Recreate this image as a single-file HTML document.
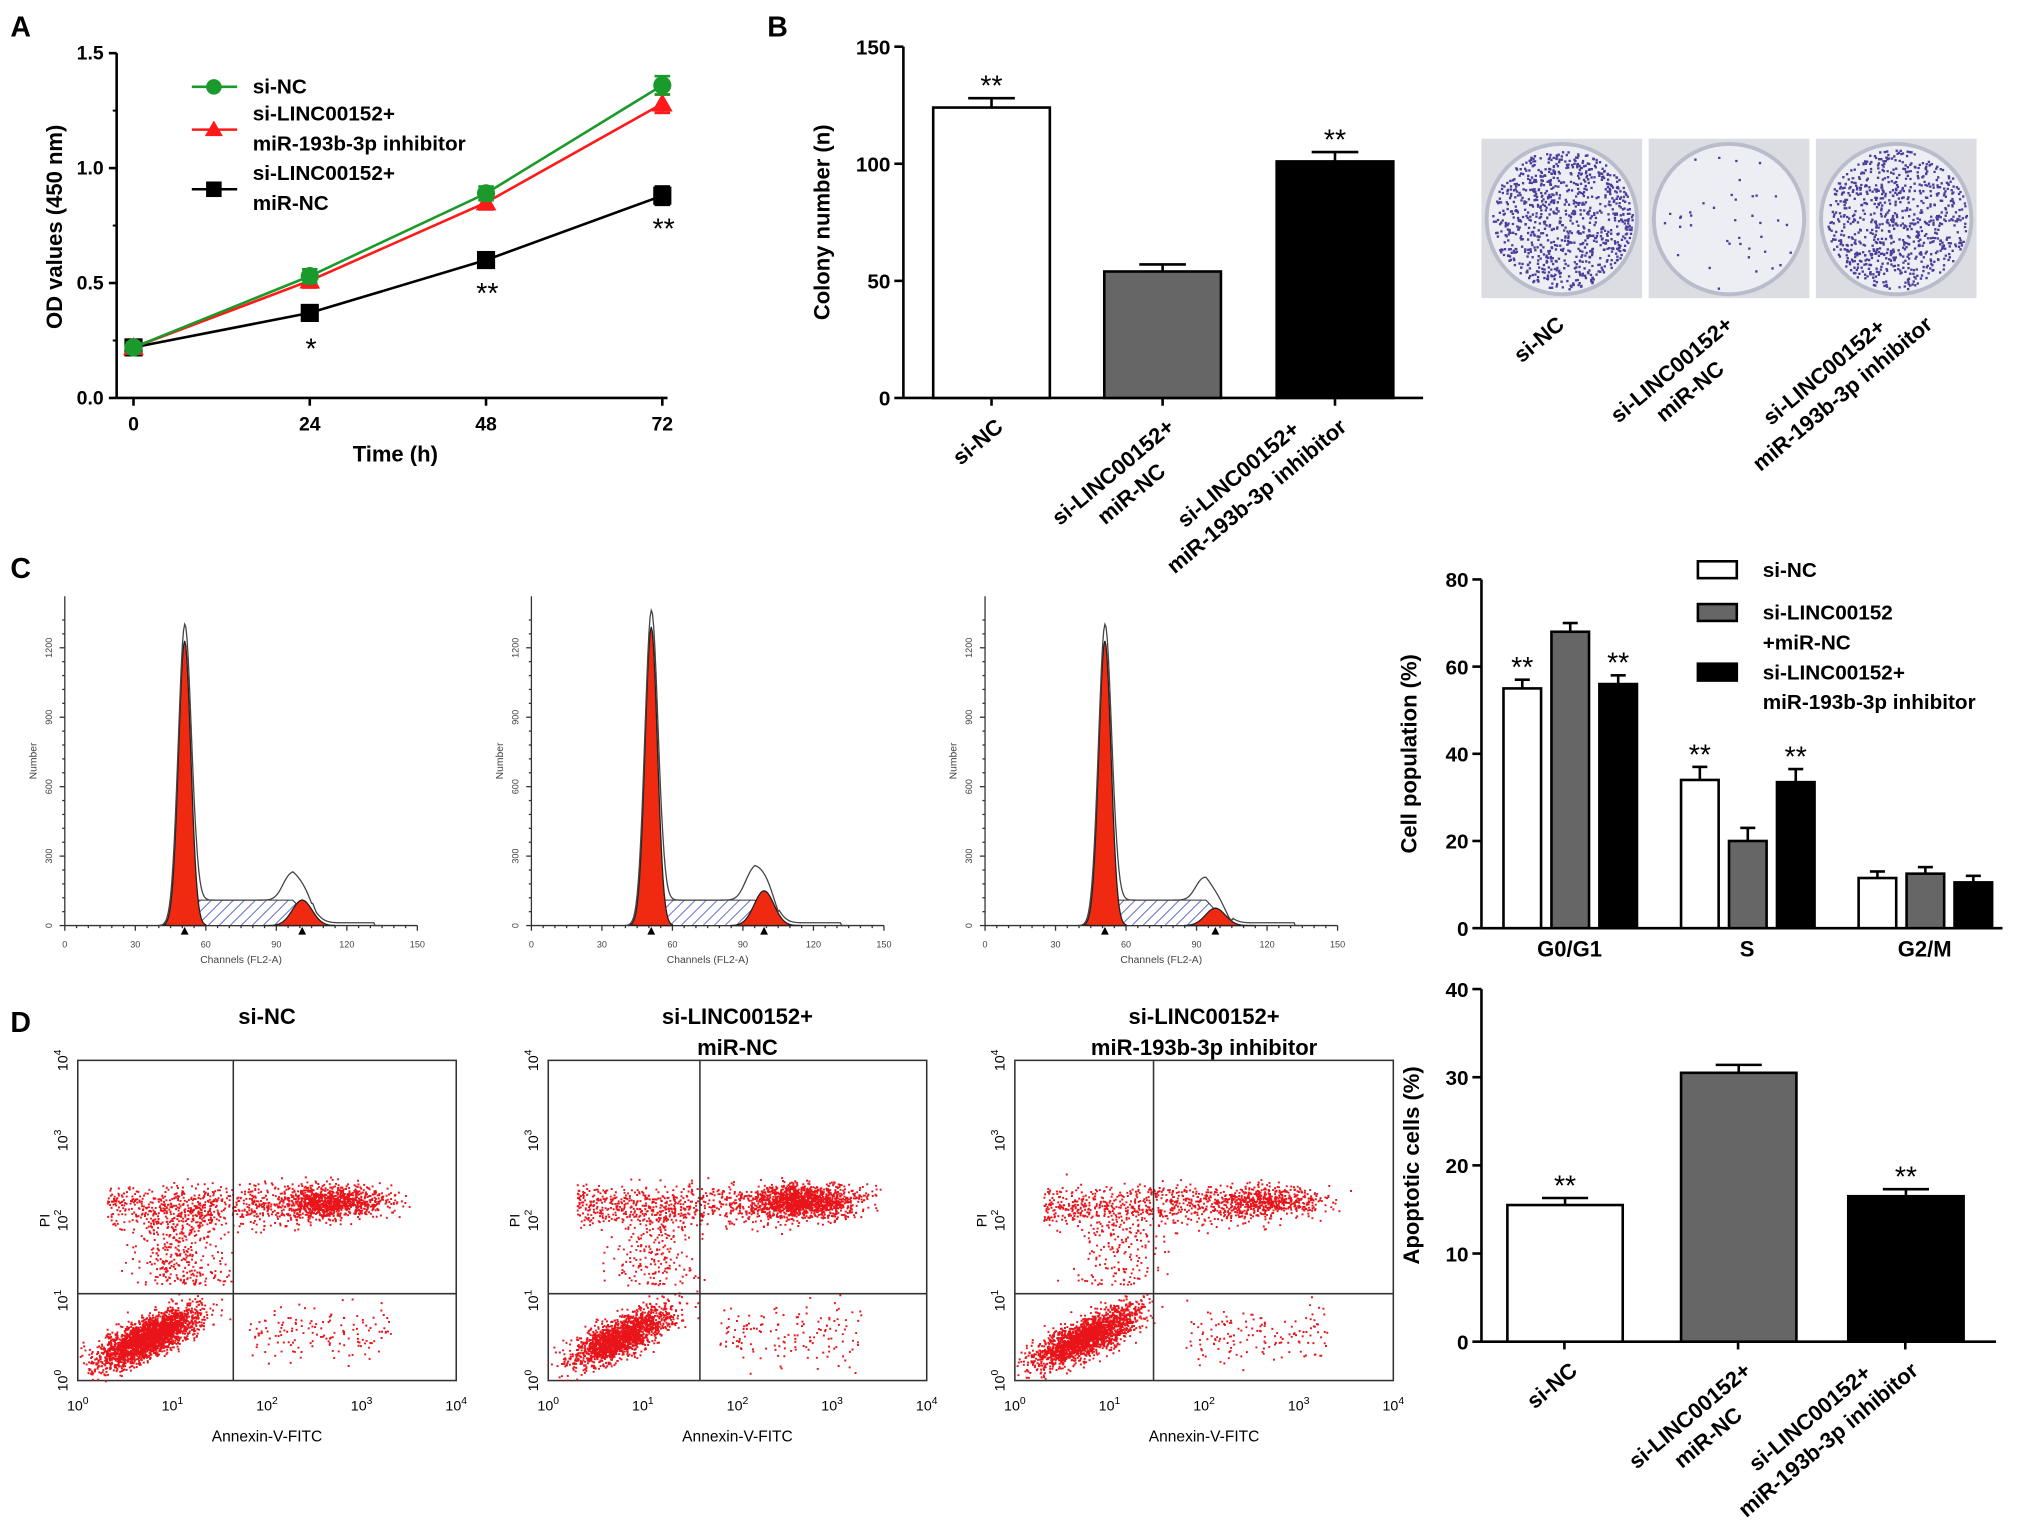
<!DOCTYPE html>
<html><head><meta charset="utf-8"><style>
html,body{margin:0;padding:0;background:#fff;}
svg{display:block;font-family:"Liberation Sans",Arial,sans-serif;}
</style></head><body>
<svg id="fig" width="2031" height="1540" viewBox="0 0 1567 1188" preserveAspectRatio="none" xmlns="http://www.w3.org/2000/svg">
<defs>
<pattern id="hatch" patternUnits="userSpaceOnUse" width="6" height="6" patternTransform="rotate(45)">
<rect width="6" height="6" fill="#fff"/><line x1="0" y1="0" x2="0" y2="6" stroke="#5a6ac8" stroke-width="1.5"/></pattern>
</defs>
<g id="root"></g>
</svg>
<script>
// ===== Data =====
const timePoints=[0,24,48,72];
const siNC_OD=[0.22,0.53,0.89,1.36];
const inhib_OD=[0.22,0.51,0.85,1.28];
const miRNC_OD=[0.22,0.37,0.60,0.88];
const odErr=[0.02,0.03,0.03,0.04];
const odTicks=[0.0,0.5,1.0,1.5];
const colonyCats=["si-NC","si-LINC00152+|miR-NC","si-LINC00152+|miR-193b-3p inhibitor"];
const colonyVals=[124,54,101];
const colonyErr=[4,3,4];
const colonyTicks=[0,50,100,150];
const phaseCats=["G0/G1","S","G2/M"];
const phaseSiNC=[55,34,11.5];
const phaseMiRNC=[68,20,12.5];
const phaseInhib=[56,33.5,10.5];
const phaseErr=[2,3,1.5];
const popTicks=[0,20,40,60,80];
const apoCats=["si-NC","si-LINC00152+|miR-NC","si-LINC00152+|miR-193b-3p inhibitor"];
const apoVals=[15.5,30.5,16.5];
const apoErr=[0.8,0.9,0.8];
const apoTicks=[0,10,20,30,40];

const NS="http://www.w3.org/2000/svg";
const root=document.getElementById('root');
function el(tag,attrs,parent,text){const e=document.createElementNS(NS,tag);for(const k in attrs)e.setAttribute(k,attrs[k]);if(text!=null)e.textContent=text;(parent||root).appendChild(e);return e;}
function txt(x,y,s,size,parent,extra){const a={x:x,y:y,'font-size':size,'font-weight':'bold',fill:'#000'};Object.assign(a,extra||{});return el('text',a,parent,s);}

[["A",8,28],["B",592,28],["C",8,446],["D",8,796]].forEach(p=>{const t=txt(p[1],p[2],p[0],22);

});

// ===== Panel A =====
const gA=el('g',{});


const ax=t=>103+(t/72)*408, ay=v=>307-(v/1.5)*266;
el('line',{x1:90,y1:ay(1.5),x2:90,y2:307,stroke:'#000','stroke-width':2},gA);
el('line',{x1:90,y1:307,x2:515,y2:307,stroke:'#000','stroke-width':2},gA);
odTicks.forEach(v=>{el('line',{x1:84,y1:ay(v),x2:90,y2:ay(v),stroke:'#000','stroke-width':2},gA);
const t=txt(80,ay(v)+5,v.toFixed(1),15,gA,{'text-anchor':'end'});
});
for(let v=0.25;v<1.5;v+=0.5)el('line',{x1:87,y1:ay(v),x2:90,y2:ay(v),stroke:'#000','stroke-width':1.5},gA);
timePoints.forEach(t=>{el('line',{x1:ax(t),y1:307,x2:ax(t),y2:313,stroke:'#000','stroke-width':2},gA);
const l=txt(ax(t),332,String(t),15,gA,{'text-anchor':'middle'});
});
const xt=txt(305,356,"Time (h)",17,gA,{'text-anchor':'middle'});

const yt=txt(0,0,"OD values (450 nm)",17,gA,{'text-anchor':'middle',transform:'translate(48,175) rotate(-90)'});

function series(vals,color,shape,name){const g=el('g',{},gA);

el('polyline',{points:vals.map((v,i)=>ax(timePoints[i])+','+ay(v)).join(' '),fill:'none',stroke:color,'stroke-width':2},g);
vals.forEach((v,i)=>{const x=ax(timePoints[i]),y=ay(v),e=odErr[i]*177;
el('line',{x1:x,y1:y-e,x2:x,y2:y+e,stroke:color,'stroke-width':2},g);
el('line',{x1:x-6,y1:y-e,x2:x+6,y2:y-e,stroke:color,'stroke-width':2},g);
el('line',{x1:x-6,y1:y+e,x2:x+6,y2:y+e,stroke:color,'stroke-width':2},g);
let m;
if(shape==='c')m=el('circle',{cx:x,cy:y,r:7,fill:color},g);
else if(shape==='t')m=el('polygon',{points:`${x},${y-8} ${x-8},${y+6} ${x+8},${y+6}`,fill:color},g);
else m=el('rect',{x:x-7,y:y-7,width:14,height:14,fill:color},g);
});}
series(miRNC_OD,'#000','s','series-si-linc-mir-nc');
series(inhib_OD,'#ff1a1a','t','series-si-linc-inhibitor');
series(siNC_OD,'#1a9a2a','c','series-si-nc');
[[240,"*",1],[376,"**",2],[512,"**",3]].forEach(s=>{const t=txt(s[0],ay(miRNC_OD[s[2]])+(s[2]===1?35:33),s[1],22,gA,{'text-anchor':'middle','font-weight':'normal'});
});
const lg=el('g',{},gA);
[[67,'#1a9a2a','c',["si-NC"]],[100,'#ff1a1a','t',["si-LINC00152+","miR-193b-3p inhibitor"]],[146,'#000','s',["si-LINC00152+","miR-NC"]]].forEach(r=>{
const y=r[0];el('line',{x1:148,y1:y,x2:183,y2:y,stroke:r[1],'stroke-width':2},lg);
if(r[2]==='c')el('circle',{cx:165,cy:y,r:6,fill:r[1]},lg);
else if(r[2]==='t')el('polygon',{points:`165,${y-7} 158,${y+5} 172,${y+5}`,fill:r[1]},lg);
else el('rect',{x:159,y:y-6,width:12,height:12,fill:r[1]},lg);
r[3].forEach((s,i)=>{const t=txt(195,y+(r[3].length>1?-7:5)+i*23,s,16,lg);
});});

// ===== generic bar chart =====
function barChart(opts){const g=el('g',{});

const y=v=>opts.y0-(v/opts.max)*(opts.y0-opts.yTop);
el('line',{x1:opts.ax,y1:opts.yTop,x2:opts.ax,y2:opts.y0,stroke:'#000','stroke-width':2},g);
el('line',{x1:opts.ax,y1:opts.y0,x2:opts.xEnd,y2:opts.y0,stroke:'#000','stroke-width':2},g);
opts.ticks.forEach(v=>{el('line',{x1:opts.ax-7,y1:y(v),x2:opts.ax,y2:y(v),stroke:'#000','stroke-width':2},g);
const t=txt(opts.ax-10,y(v)+6,String(v),16,g,{'text-anchor':'end'});
});
const at=txt(0,0,opts.title,17,g,{'text-anchor':'middle',transform:`translate(${opts.titleX},${(opts.y0+opts.yTop)/2}) rotate(-90)`});

return {g:g,y:y};}
function drawBar(g,y,x,w,v,err,fill,star,name){const b=el('rect',{x:x,y:y(v),width:w,height:y(0)-y(v),fill:fill,stroke:'#000','stroke-width':2},g);

const cx=x+w/2,ey=y(v+err);el('line',{x1:cx,y1:y(v),x2:cx,y2:ey,stroke:'#000','stroke-width':2},g);
el('line',{x1:cx-w*0.2,y1:ey,x2:cx+w*0.2,y2:ey,stroke:'#000','stroke-width':2},g);
if(star){const t=txt(cx,ey-2,"**",22,g,{'text-anchor':'middle','font-weight':'normal'});}}
function labelBlock(g,lines,x,y,name){const tg=el('g',{transform:`translate(${x},${y}) rotate(-40)`},g);
const ts=lines.map(s=>{const t=txt(0,0,s,17,tg,{'text-anchor':'middle'});
return t;});
const ws=ts.map(t=>t.getComputedTextLength()||t.textContent.length*9);
const maxW=Math.max(...ws),L=ws.indexOf(maxW);
ts.forEach((t,j)=>{t.setAttribute('x',-maxW/2);t.setAttribute('y',(j-L)*22);});}
function rotLabels(g,cats,xs,y0){cats.forEach((c,i)=>labelBlock(g,c.split('|'),xs[i]+10,y0+24,'x-tick-label'));}

// Panel B
{const c=barChart({name:'colony-bar-chart',ax:697,y0:307,yTop:36,max:150,ticks:colonyTicks,xEnd:1098,title:"Colony number (n)",titleX:640});
const xs=[720,852,985],fills=['#fff','#666','#000'],stars=[1,0,1];
colonyVals.forEach((v,i)=>drawBar(c.g,c.y,xs[i],90,v,colonyErr[i],fills[i],stars[i],'bar-colony-'+i));
xs.forEach(x=>el('line',{x1:x+45,y1:307,x2:x+45,y2:313,stroke:'#000','stroke-width':2},c.g));
rotLabels(c.g,colonyCats,xs.map(x=>x+45),307);}

// colony dishes
{const g=el('g',{});
const dens=[900,40,800];
[1143,1272,1401].forEach((x,i)=>{el('rect',{x:x,y:107,width:124,height:123,fill:'#dcdde2'},g);
el('circle',{cx:x+62,cy:169,r:58,fill:'#eceef3',stroke:'#b9bccb','stroke-width':3},g);
let s=i*97+13;const rnd=()=>{s=(s*16807)%2147483647;return s/2147483647;};
let d='';for(let k=0;k<dens[i];k++){const a=rnd()*6.283,r=Math.sqrt(rnd())*54;const px=x+62+r*Math.cos(a),py=169+r*Math.sin(a);d+=`M${px.toFixed(1)},${py.toFixed(1)}h1.8v1.8h-1.8z`;}
el('path',{d:d,fill:'#4a3e9a'},g);});
const labs=[["si-NC"],["si-LINC00152+","miR-NC"],["si-LINC00152+","miR-193b-3p inhibitor"]];
[1208,1338,1492].forEach((x,i)=>labelBlock(g,labs[i],x,252,'photo-label'));}

// ===== Panel C histograms =====
[[50,"h1"],[410,"h2"],[760,"h3"]].forEach((p,k)=>{const g=el('g',{});

const x0=p[0],w=272,yb=714,xs=c=>x0+c/150*w,ys=n=>yb-n/1400*250;
el('line',{x1:x0,y1:460,x2:x0,y2:yb,stroke:'#333','stroke-width':1},g);
el('line',{x1:x0,y1:yb,x2:x0+w,y2:yb,stroke:'#333','stroke-width':1},g);
for(let c=0;c<=150;c+=5)el('line',{x1:xs(c),y1:yb,x2:xs(c),y2:yb+(c%30?2:4),stroke:'#333'},g);
for(let n=0;n<=1350;n+=60)el('line',{x1:x0-(n%300?2:4),y1:ys(n),x2:x0,y2:ys(n),stroke:'#333'},g);
[0,30,60,90,120,150].forEach(c=>txt(xs(c),731,String(c),7,g,{'text-anchor':'middle','font-weight':'normal',fill:'#444'}));
[0,300,600,900,1200].forEach(n=>txt(0,0,String(n),7,g,{'text-anchor':'middle','font-weight':'normal',fill:'#444',transform:`translate(${x0-10},${ys(n)}) rotate(-90)`}));
txt(xs(75),743,"Channels (FL2-A)",8,g,{'text-anchor':'middle','font-weight':'normal',fill:'#444'});
txt(0,0,"Number",8,g,{'text-anchor':'middle','font-weight':'normal',fill:'#444',transform:`translate(${x0-22},587) rotate(-90)`});
const pk=[1230,1290,1230][k],p2=[110,150,75][k],p2c=[101,99,98][k];
const gaus=(c,m,s,h)=>h*Math.exp(-((c-m)*(c-m))/(2*s*s));
const sPh=c=>{if(c<49||c>p2c+6)return 0;const a=Math.min(1,(c-49)/7),b=Math.min(1,(p2c+6-c)/10);return 110*Math.min(a,b);};
let s1=`M${xs(45)},${yb}`,s2=`M${xs(85)},${yb}`,hs=`M${xs(49)},${yb}`,ol=`M${xs(40)},${yb}`;
for(let c=40;c<=135;c+=0.5){
if(c>=42&&c<=60)s1+=` L${xs(c)},${ys(gaus(c,51,2.6,pk))}`;
if(c>=85&&c<=115)s2+=` L${xs(c)},${ys(gaus(c,p2c,4.2,p2))}`;
if(c>=49&&c<=p2c+6)hs+=` L${xs(c)},${ys(sPh(c))}`;
const tot=gaus(c,51,2.8,pk+40)+sPh(c)+gaus(c,p2c,4.5,p2)+gaus(c,p2c-6,3,60)+(c>105&&c<132?12:0);
ol+=` L${xs(c)},${ys(tot)}`;}
el('path',{d:hs+` L${xs(p2c+6)},${yb} Z`,fill:'url(#hatch)',stroke:'#333','stroke-width':0.8},g);
el('path',{d:s1+` L${xs(60)},${yb} Z`,fill:'#f02a10',stroke:'#222','stroke-width':1},g);
el('path',{d:s2+` Z`,fill:'#f02a10',stroke:'#222','stroke-width':1},g);
el('path',{d:ol,fill:'none',stroke:'#444','stroke-width':1},g);
el('polygon',{points:`${xs(51)},${yb+1} ${xs(51)-3},${yb+7} ${xs(51)+3},${yb+7}`,fill:'#000'},g);
el('polygon',{points:`${xs(p2c)},${yb+1} ${xs(p2c)-3},${yb+7} ${xs(p2c)+3},${yb+7}`,fill:'#000'},g);});

// Panel C bar chart
{const c=barChart({name:'cell-population-bar-chart',ax:1143,y0:716,yTop:447,max:80,ticks:popTicks,xEnd:1545,title:"Cell population (%)",titleX:1093});
const groupX=[1160,1297,1434],sets=[[phaseSiNC,'#fff'],[phaseMiRNC,'#666'],[phaseInhib,'#000']];
const starMap=[[1,0,1],[1,0,1],[0,0,0]];
phaseCats.forEach((cat,i)=>{sets.forEach((s,j)=>drawBar(c.g,c.y,groupX[i]+j*37,29,s[0][i],phaseErr[i],s[1],starMap[i][j],'bar-'+cat.replace('/','')+'-'+j));
const t=txt(groupX[i]+51,738,cat,17,c.g,{'text-anchor':'middle'});});
const lg=el('g',{},c.g);
[[433,'#fff',["si-NC"]],[466,'#666',["si-LINC00152","+miR-NC"]],[512,'#000',["si-LINC00152+","miR-193b-3p inhibitor"]]].forEach(r=>{
el('rect',{x:1310,y:r[0],width:30,height:13,fill:r[1],stroke:'#000','stroke-width':2},lg);
r[2].forEach((s,i)=>{const t=txt(1360,r[0]+12+i*23,s,16,lg);});});}

// ===== Panel D dot plots =====
const dotTitles=[["si-NC"],["si-LINC00152+","miR-NC"],["si-LINC00152+","miR-193b-3p inhibitor"]];
function pow10(g,x,y,e,rot){const a={x:x,y:y,'font-size':11,'text-anchor':'middle',fill:'#000'};if(rot)a.transform=rot;
const t=el('text',a,g,null);el('tspan',{},t,"10");el('tspan',{dy:-5,'font-size':8},t,String(e));}
[[60,180,998],[423,540,998],[783,890,998]].forEach((p,k)=>{const g=el('g',{});

const x0=p[0],w=292,y0=818,h=247;
dotTitles[k].forEach((s,i)=>txt(x0+w/2,790+i*24,s,17,g,{'text-anchor':'middle'}));
el('rect',{x:x0,y:y0,width:w,height:h,fill:'#fff',stroke:'#333','stroke-width':1.2},g);
let s=k*131+7;const rnd=()=>{s=(s*16807)%2147483647;return s/2147483647;};
const gauss=()=>{let a=0;for(let i=0;i<4;i++)a+=rnd();return (a-2)/2;};
let d='';const dot=(x,y)=>{if(x>x0&&x<x0+w&&y>y0&&y<y0+h)d+=`M${x.toFixed(1)},${y.toFixed(1)}h1.5v1.5h-1.5z`;};
const lx=v=>x0+v/4*w,ly=v=>y0+h-v/4*h;
const nLL=[2600,1800,2000][k],nUR=[900,1300,500][k];
for(let i=0;i<nLL;i++){const gg=gauss();dot(lx(0.75+gg*0.8+gauss()*0.4),ly(0.55+gg*0.5+gauss()*0.35));}
for(let i=0;i<nUR;i++)dot(lx(2.7+gauss()*1.0),ly(2.25+gauss()*0.35));
for(let i=0;i<700;i++)dot(lx(0.3+rnd()*2.4),ly(2.2+gauss()*0.45));
for(let i=0;i<[400,250,200][k];i++)dot(lx(1.1+gauss()*0.8),ly(1.2+rnd()*1.0));
for(let i=0;i<150;i++)dot(lx(1.8+rnd()*1.5),ly(0.6+gauss()*0.6));
el('path',{d:d,fill:'#e8141a'},g);
el('line',{x1:p[1],y1:y0,x2:p[1],y2:y0+h,stroke:'#333','stroke-width':1.2},g);
el('line',{x1:x0,y1:p[2],x2:x0+w,y2:p[2],stroke:'#333','stroke-width':1.2},g);
for(let e=0;e<=4;e++){pow10(g,lx(e),1088,e,null);pow10(g,0,0,e,`translate(${x0-8},${ly(e)}) rotate(-90)`);}
txt(x0+w/2,1112,"Annexin-V-FITC",12,g,{'text-anchor':'middle','font-weight':'normal'});
txt(0,0,"PI",11,g,{'text-anchor':'middle','font-weight':'normal',transform:`translate(${x0-22},${y0+h/2}) rotate(-90)`});});

// Panel D bar chart
{const c=barChart({name:'apoptosis-bar-chart',ax:1143,y0:1035,yTop:763,max:40,ticks:apoTicks,xEnd:1540,title:"Apoptotic cells (%)",titleX:1095});
const xs=[1163,1297,1426],fills=['#fff','#666','#000'],stars=[1,0,1];
apoVals.forEach((v,i)=>drawBar(c.g,c.y,xs[i],89,v,apoErr[i],fills[i],stars[i],'bar-apoptosis-'+i));
xs.forEach(x=>el('line',{x1:x+44,y1:1035,x2:x+44,y2:1041,stroke:'#000','stroke-width':2},c.g));
rotLabels(c.g,apoCats,xs.map(x=>x+45),1035);}
</script>
</body></html>
